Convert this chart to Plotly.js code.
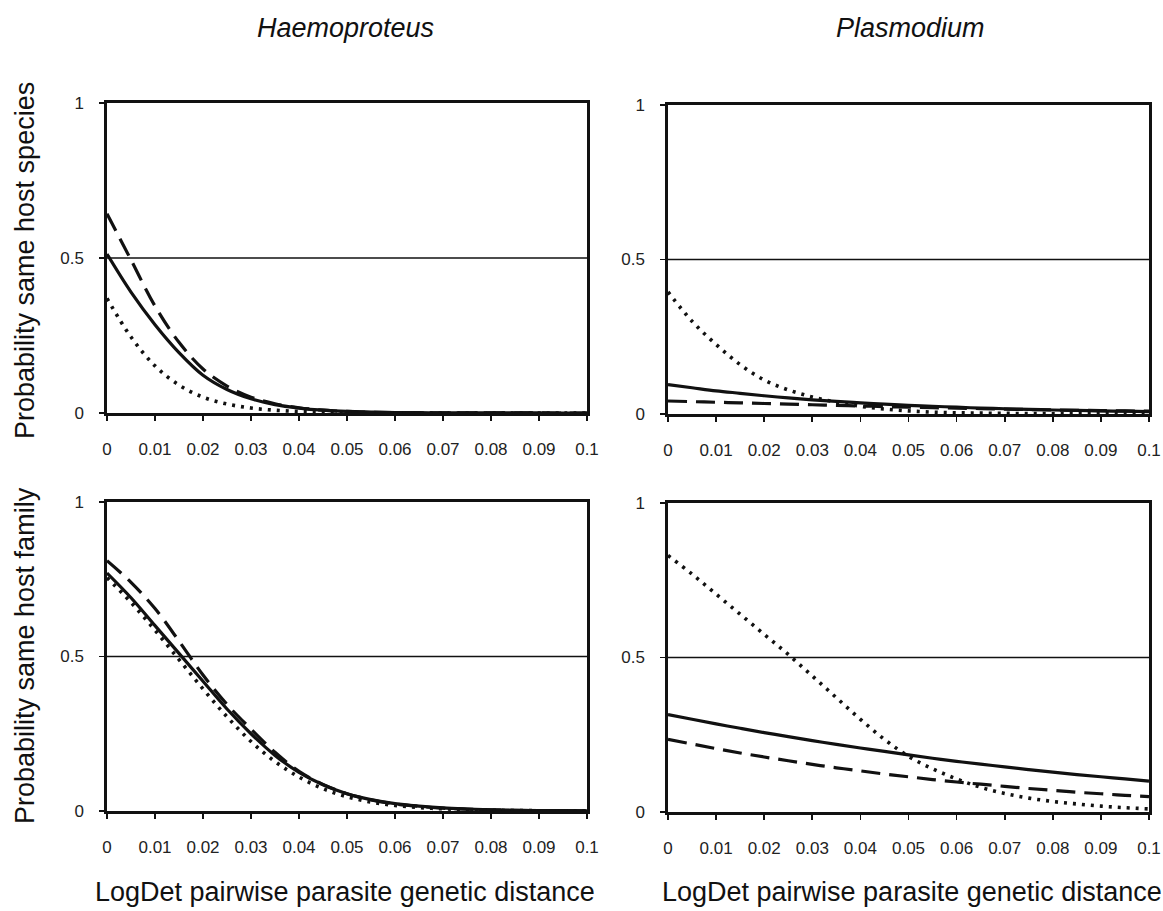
<!DOCTYPE html>
<html>
<head>
<meta charset="utf-8">
<script src="https://cdn.plot.ly/plotly-3.0.1.min.js"></script>
<style>html,body{margin:0;padding:0;background:#fff;}#chart{width:1163px;height:911px;}</style>
</head>
<body>
<div id="chart"></div>
<script>
// Genetic distance (x), shared by all panels
const distance = [0,0.005,0.01,0.015,0.02,0.025,0.03,0.035,0.04,0.045,0.05,0.055,0.06,0.065,0.07,0.075,0.08,0.085,0.09,0.095,0.1];

// Haemoproteus – same host species
const haemoSpeciesSolid  = [0.513,0.39,0.285,0.195,0.122,0.076,0.046,0.027,0.016,0.009,0.005,0.003,0.0015,0.001,0.0005,0.0003,0.0002,0.0001,0.0001,0,0];
const haemoSpeciesDashed = [0.643,0.494,0.345,0.228,0.142,0.087,0.051,0.030,0.017,0.009,0.005,0.0025,0.0013,0.001,0.0005,0.0003,0.0002,0.0001,0.0001,0,0];
const haemoSpeciesDotted = [0.37,0.245,0.152,0.09,0.051,0.029,0.016,0.009,0.005,0.003,0.001,0.0006,0.0004,0.0002,0.0001,0,0,0,0,0,0];

// Plasmodium – same host species
const plasSpeciesSolid  = [0.095,0.085,0.075,0.067,0.059,0.052,0.046,0.041,0.036,0.032,0.028,0.025,0.022,0.019,0.017,0.015,0.013,0.0115,0.010,0.009,0.008];
const plasSpeciesDashed = [0.042,0.040,0.038,0.036,0.034,0.032,0.030,0.028,0.026,0.024,0.022,0.0205,0.019,0.0175,0.016,0.0145,0.013,0.012,0.011,0.010,0.009];
const plasSpeciesDotted = [0.395,0.30,0.225,0.16,0.11,0.078,0.055,0.038,0.025,0.016,0.010,0.006,0.004,0.003,0.002,0.0015,0.001,0.0008,0.0006,0.0005,0.0004];

// Haemoproteus – same host family
const haemoFamilySolid  = [0.77,0.69,0.60,0.51,0.42,0.33,0.25,0.18,0.125,0.085,0.056,0.037,0.024,0.016,0.010,0.0065,0.004,0.0025,0.0015,0.001,0.0006];
const haemoFamilyDashed = [0.81,0.74,0.655,0.55,0.44,0.345,0.265,0.19,0.128,0.086,0.056,0.036,0.023,0.015,0.009,0.006,0.0035,0.002,0.0013,0.0008,0.0005];
const haemoFamilyDotted = [0.755,0.675,0.585,0.49,0.395,0.305,0.225,0.16,0.11,0.072,0.046,0.029,0.018,0.011,0.007,0.004,0.0025,0.0015,0.001,0.0005,0.0003];

// Plasmodium – same host family
const plasFamilySolid  = [0.315,0.30,0.285,0.271,0.257,0.244,0.231,0.219,0.207,0.196,0.185,0.174,0.164,0.155,0.146,0.137,0.129,0.121,0.114,0.107,0.10];
const plasFamilyDashed = [0.235,0.22,0.205,0.191,0.178,0.166,0.154,0.143,0.133,0.123,0.114,0.105,0.097,0.09,0.083,0.076,0.070,0.064,0.059,0.054,0.050];
const plasFamilyDotted = [0.83,0.77,0.705,0.64,0.575,0.51,0.44,0.37,0.30,0.235,0.18,0.14,0.107,0.08,0.06,0.045,0.034,0.026,0.019,0.014,0.010];

// Reference line
const refX = [0, 0.1];
const refY = [0.5, 0.5];

// Tick labels
const xTickVals = [0,0.01,0.02,0.03,0.04,0.05,0.06,0.07,0.08,0.09,0.1];
const xTickText = ['0','0.01','0.02','0.03','0.04','0.05','0.06','0.07','0.08','0.09','0.1'];
const yTickVals = [0,0.5,1];
const yTickText = ['0','0.5','1'];

const panelTitles = ['Haemoproteus','Plasmodium'];
const yTitles = ['Probability same host species','Probability same host family'];
const xTitle = 'LogDet pairwise parasite genetic distance';

const W = 1163, H = 911;
const px = v => v / W;
const py = v => (H - v) / H;

const INK = '#111';
const solidStyle  = {color: INK, width: 3.2, dash: 'solid', shape: 'spline'};
const dashedStyle = {color: INK, width: 3.2, dash: '19px,9px', shape: 'spline'};
const dottedStyle = {color: INK, width: 3.6, dash: '3px,6px', shape: 'spline'};

const panels = [
  {ax: '',  data: [haemoSpeciesSolid, haemoSpeciesDashed, haemoSpeciesDotted]},
  {ax: '2', data: [plasSpeciesSolid, plasSpeciesDashed, plasSpeciesDotted]},
  {ax: '3', data: [haemoFamilySolid, haemoFamilyDashed, haemoFamilyDotted]},
  {ax: '4', data: [plasFamilySolid, plasFamilyDashed, plasFamilyDotted]}
];

const traces = [];
panels.forEach(p => {
  const xa = 'x' + p.ax, ya = 'y' + p.ax;
  traces.push({x: refX, y: refY, xaxis: xa, yaxis: ya, mode: 'lines', line: {color: INK, width: 1.6}, hoverinfo: 'skip'});
  const styles = [solidStyle, dashedStyle, dottedStyle];
  p.data.forEach((ys, i) => {
    traces.push({x: distance, y: ys, xaxis: xa, yaxis: ya, mode: 'lines', line: styles[i]});
  });
});

const TICKFONT = {family: 'Liberation Sans, Arial, sans-serif', size: 17, color: '#222'};

function xAxis(domain, anchor) {
  return {
    domain: domain, anchor: anchor, range: [0, 0.1], fixedrange: true,
    showline: true, mirror: true, linecolor: INK, linewidth: 2.6,
    showgrid: false, zeroline: false,
    ticks: 'outside', ticklen: 5, tickwidth: 1.6, tickcolor: INK,
    tickmode: 'array', tickvals: xTickVals, ticktext: xTickText,
    ticklabelstandoff: 14,
    tickfont: TICKFONT
  };
}
function yAxis(domain, anchor) {
  return {
    domain: domain, anchor: anchor, range: [0, 1], fixedrange: true,
    showline: true, mirror: true, linecolor: INK, linewidth: 2.6,
    showgrid: false, zeroline: false,
    ticks: 'outside', ticklen: 5, tickwidth: 1.6, tickcolor: INK,
    tickmode: 'array', tickvals: yTickVals, ticktext: yTickText,
    ticklabelstandoff: 12,
    tickfont: TICKFONT
  };
}

const xL = [px(107), px(587)], xR = [px(668), px(1149)];
const yTL = [py(413), py(103)], yTR = [py(414), py(105)];
const yBL = [py(811), py(502)], yBR = [py(812), py(503)];

const TF = {family: 'Liberation Sans, Arial, sans-serif', size: 27, color: INK};

const annotations = [
  {text: '<i>' + panelTitles[0] + '</i>', x: px(345), y: py(28)},
  {text: '<i>' + panelTitles[1] + '</i>', x: px(910), y: py(28)},
  {text: yTitles[0], x: px(25), y: py(261), textangle: -90},
  {text: yTitles[1], x: px(25), y: py(656), textangle: -90},
  {text: xTitle, x: px(345), y: py(892)},
  {text: xTitle, x: px(912), y: py(892)}
].map(a => Object.assign({xref: 'paper', yref: 'paper', showarrow: false, xanchor: 'center', yanchor: 'middle', font: TF}, a));

const layout = {
  width: W, height: H,
  margin: {l: 0, r: 0, t: 0, b: 0},
  paper_bgcolor: '#fff', plot_bgcolor: '#fff',
  showlegend: false,
  xaxis: xAxis(xL, 'y'), yaxis: yAxis(yTL, 'x'),
  xaxis2: xAxis(xR, 'y2'), yaxis2: yAxis(yTR, 'x2'),
  xaxis3: xAxis(xL, 'y3'), yaxis3: yAxis(yBL, 'x3'),
  xaxis4: xAxis(xR, 'y4'), yaxis4: yAxis(yBR, 'x4'),
  annotations: annotations
};

Plotly.newPlot('chart', traces, layout, {staticPlot: true, displayModeBar: false});
</script>
</body>
</html>
